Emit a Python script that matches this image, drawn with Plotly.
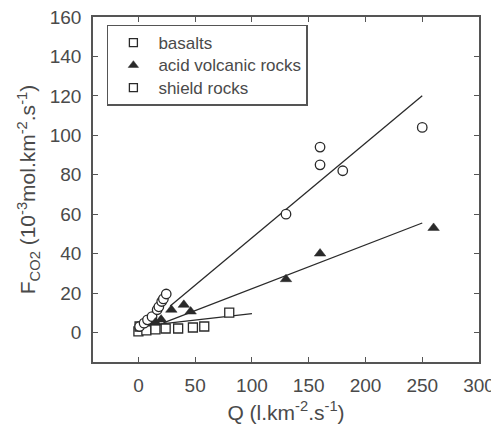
import plotly.graph_objects as go

# Basalts (open circles)
basalt_q = [1, 5, 8, 12, 16.5, 18, 20.5, 22, 24.5, 130, 160, 160, 180, 250]
basalt_f = [3, 4.7, 6.4, 8, 11.5, 13, 15.7, 17, 19.5, 60, 94, 85, 82, 104]
basalt_fit_q = [28, 250]
basalt_slope = 0.48

# Acid volcanic rocks (filled triangles)
acid_q = [15, 20, 29, 40, 46, 130, 160, 260]
acid_f = [5, 6.5, 11.5, 14, 10.6, 27, 40, 53]
acid_fit_q = [22, 250]
acid_slope = 0.222

# Shield rocks (open squares)
shield_q = [0, 1, 7, 15, 24, 35, 48, 58, 80]
shield_f = [0.5, 3, 1, 1.5, 2, 2, 2.5, 3, 10]
shield_fit_q = [5, 100]
shield_intercept = 3
shield_slope = 0.065

x_ticks = [0, 50, 100, 150, 200, 250, 300]
y_ticks = [0, 20, 40, 60, 80, 100, 120, 140, 160]

legend_names = ["basalts", "acid volcanic rocks", "shield rocks"]

ink = "#2a2a2a"
txt = "#4a4a4a"
font = "Liberation Sans, Arial, sans-serif"

fig = go.Figure()

# regression lines
fig.add_trace(go.Scatter(x=basalt_fit_q, y=[basalt_slope * q for q in basalt_fit_q],
                         mode="lines", line=dict(color=ink, width=1.3), showlegend=False))
fig.add_trace(go.Scatter(x=acid_fit_q, y=[acid_slope * q for q in acid_fit_q],
                         mode="lines", line=dict(color=ink, width=1.3), showlegend=False))
fig.add_trace(go.Scatter(x=shield_fit_q, y=[shield_intercept + shield_slope * q for q in shield_fit_q],
                         mode="lines", line=dict(color=ink, width=1.3), showlegend=False))

# data points
fig.add_trace(go.Scatter(x=shield_q, y=shield_f, mode="markers", showlegend=False,
                         marker=dict(symbol="square", size=9, color="white",
                                     line=dict(color=ink, width=1.3))))
fig.add_trace(go.Scatter(x=basalt_q, y=basalt_f, mode="markers", showlegend=False,
                         marker=dict(symbol="circle", size=9.5, color="white",
                                     line=dict(color=ink, width=1.3))))
fig.add_trace(go.Scatter(x=acid_q, y=acid_f, mode="markers", showlegend=False,
                         marker=dict(symbol="triangle-up", size=10, color=ink,
                                     line=dict(color=ink, width=0.5))))

# legend entries (as in the original, basalts shown with a square symbol)
def lname(s):
    return "<span style='font-size:17px'>" + s + "</span>"

fig.add_trace(go.Scatter(x=[None], y=[None], mode="markers", name=lname(legend_names[0]),
                         marker=dict(symbol="square", size=8, color="white",
                                     line=dict(color=ink, width=1.3))))
fig.add_trace(go.Scatter(x=[None], y=[None], mode="markers", name=lname(legend_names[1]),
                         marker=dict(symbol="triangle-up", size=9, color=ink,
                                     line=dict(color=ink, width=0.5))))
fig.add_trace(go.Scatter(x=[None], y=[None], mode="markers", name=lname(legend_names[2]),
                         marker=dict(symbol="square", size=8, color="white",
                                     line=dict(color=ink, width=1.3))))

axis_common = dict(showgrid=False, zeroline=False, showline=True, linecolor="#555555",
                   linewidth=1.5, mirror="ticks", ticks="inside", ticklen=5,
                   tickwidth=1.2, tickcolor="#555555", automargin=False,
                   ticklabeloverflow="allow",
                   tickfont=dict(family=font, size=19, color=txt))

fig.update_xaxes(range=[-40, 300], tickvals=x_ticks, ticklabelstandoff=5,
                 title=dict(text="Q (l.km<sup>-2</sup>.s<sup>-1</sup>)",
                            font=dict(family=font, size=21, color=txt), standoff=13),
                 **axis_common)
fig.update_yaxes(range=[-15, 160], tickvals=y_ticks, ticklabelstandoff=6,
                 title=dict(text="F<sub>CO2</sub> (10<sup>-3</sup>mol.km<sup>-2</sup>.s<sup>-1</sup>)",
                            font=dict(family=font, size=21, color=txt), standoff=8),
                 **axis_common)

# page body has an 8px default margin, so the figure is offset by 8px
fig.update_layout(
    width=491, height=416,
    margin=dict(l=85, r=20, t=9, b=62),
    plot_bgcolor="white", paper_bgcolor="white",
    font=dict(family=font, color=txt),
    legend=dict(x=0.036, y=0.977, xanchor="left", yanchor="top",
                bgcolor="white", bordercolor="#555555", borderwidth=1.5,
                font=dict(family=font, size=15, color=txt),
                itemwidth=40, tracegroupgap=0),
)

fig.write_html("out.html")
